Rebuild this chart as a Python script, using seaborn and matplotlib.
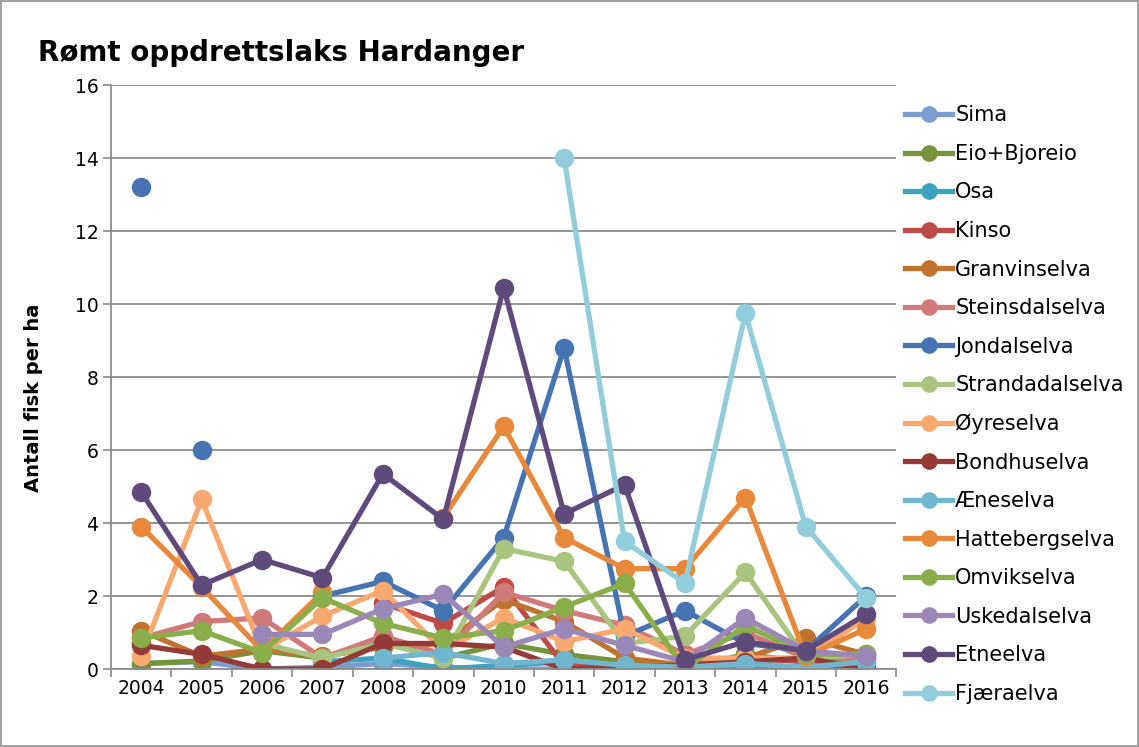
import numpy as np
import pandas as pd
import matplotlib
matplotlib.use("Agg")
import matplotlib.pyplot as plt
from matplotlib.lines import Line2D
import seaborn as sns

years = [2004, 2005, 2006, 2007, 2008, 2009, 2010, 2011, 2012, 2013, 2014, 2015, 2016]
nan = np.nan

series_names = ["Sima", "Eio+Bjoreio", "Osa", "Kinso", "Granvinselva", "Steinsdalselva",
                "Jondalselva", "Strandadalselva", "Øyreselva", "Bondhuselva", "Æneselva",
                "Hattebergselva", "Omvikselva", "Uskedalselva", "Etneelva", "Fjæraelva"]

sima = [0.15, 0.2, 0.0, 0.05, 0.15, 0.05, 0.0, 0.0, 0.05, 0.05, 0.05, 0.05, 0.1]
eio = [0.15, 0.22, 0.5, 0.3, 0.8, 0.3, 0.7, 0.4, 0.2, 0.0, 0.4, 0.2, 0.3]
osa = [nan, nan, nan, 0.2, 0.3, 0.0, 0.1, 0.2, 0.1, 0.0, 0.1, 0.0, 0.2]
kinso = [0.7, nan, nan, nan, 1.8, 1.25, 2.25, 0.1, 0.0, 0.1, 0.3, 0.2, 0.0]
granvin = [1.05, 0.35, 0.55, 0.35, 0.6, 0.7, 1.9, 1.3, 0.3, 0.1, 0.3, 0.85, 0.4]
steinsdal = [0.85, 1.3, 1.4, 0.3, 0.9, 0.4, 2.1, 1.6, 1.2, 0.4, 1.0, 0.3, 0.3]
jondal = [13.2, 6.0, nan, 2.0, 2.4, 1.6, 3.6, 8.8, 0.9, 1.6, 0.7, 0.5, 2.0]
stranda = [nan, nan, 0.7, 0.3, 0.7, 0.3, 3.3, 2.95, 0.7, 0.9, 2.65, 0.3, 0.4]
oyre = [0.35, 4.65, 0.5, 1.45, 2.15, 0.5, 1.4, 0.75, 1.1, 0.3, 0.3, 0.3, 1.4]
bondhus = [0.65, 0.4, 0.0, 0.0, 0.7, 0.7, 0.6, 0.0, 0.05, 0.1, 0.2, 0.3, 0.0]
aene = [nan, nan, nan, nan, 0.3, 0.45, 0.15, 0.25, 0.1, 0.05, 0.15, 0.05, 0.2]
hatteberg = [3.9, 2.25, 0.5, 2.1, nan, 4.15, 6.65, 3.6, 2.75, 2.75, 4.7, 0.35, 1.1]
omvik = [0.85, 1.05, 0.45, 1.95, 1.25, 0.85, 1.05, 1.7, 2.35, 0.0, 1.2, 0.4, 0.4]
uskedal = [nan, nan, 0.95, 0.95, 1.65, 2.05, 0.6, 1.1, 0.65, 0.2, 1.4, 0.5, 0.35]
etne = [4.85, 2.3, 3.0, 2.5, 5.35, 4.1, 10.45, 4.25, 5.05, 0.25, 0.75, 0.5, 1.5]
fjaera = [nan, nan, nan, nan, nan, nan, nan, 14.0, 3.5, 2.35, 9.75, 3.9, 1.95]

values = [sima, eio, osa, kinso, granvin, steinsdal, jondal, stranda, oyre, bondhus,
          aene, hatteberg, omvik, uskedal, etne, fjaera]

# points that are not joined to the previous point
segment_starts = {"Jondalselva": [2005]}

colors = ["#7C9DCF", "#77933C", "#3CA2BE", "#BE4B48", "#C0722F", "#D07A7A",
          "#4674B0", "#A9C47F", "#F9A870", "#953A37", "#6FB6CE", "#E8883A",
          "#8AAE4A", "#9C88B8", "#604A7B", "#92CDDC"]

FAM = ['DejaVu Sans']

fig = plt.figure(figsize=(11.39, 7.47), dpi=100)
fig.patch.set_edgecolor("#A0A0A0")
fig.patch.set_linewidth(1.5)
ax = fig.add_axes([0.0975, 0.1044, 0.6895, 0.7816])

plt.rcParams['font.family'] = FAM

for name, vals, col in zip(series_names, values, colors):
    df = pd.DataFrame({"year": years, "val": vals})
    df["pos"] = np.arange(len(years))
    seg = 0
    segs = []
    prev_nan = True
    for y, v in zip(df["year"], df["val"]):
        if np.isnan(v):
            prev_nan = True
            segs.append(-1)
            continue
        if prev_nan or y in segment_starts.get(name, []):
            seg += 1
        prev_nan = False
        segs.append(seg)
    df["seg"] = segs
    df = df[df["seg"] >= 0]
    sns.lineplot(data=df, x="pos", y="val", units="seg", estimator=None, color=col,
                 marker="o", markersize=14, markeredgewidth=0, linewidth=3.8,
                 ax=ax, legend=False, sort=False)

ax.set_xlim(-0.5, len(years) - 0.5)
ax.set_ylim(0, 16)
ax.set_yticks(np.arange(0, 17, 2))
ax.set_xticks(np.arange(len(years)))
ax.set_xticklabels([str(y) for y in years], fontsize=13.5, family=FAM)
ax.set_xticks(np.arange(len(years) + 1) - 0.5, minor=True)
ax.tick_params(axis="x", which="major", length=0, pad=7)
ax.tick_params(axis="x", which="minor", length=6, color="#888888", width=1.2)
ax.tick_params(axis="y", length=6, color="#888888", width=1.2, labelsize=13.5, pad=3)
for lab in ax.get_yticklabels():
    lab.set_family(FAM)
ax.grid(axis="y", color="#8C8C8C", linewidth=1.3)
ax.set_axisbelow(True)
for s in ["top", "right"]:
    ax.spines[s].set_visible(False)
for s in ["left", "bottom"]:
    ax.spines[s].set_color("#8C8C8C")
    ax.spines[s].set_linewidth(1.3)
ax.set_xlabel("")
ax.set_ylabel("Antall fisk per ha", fontsize=14, fontweight="bold", family=FAM,
              va="center", ha="center")
ax.yaxis.set_label_coords(-0.099, 0.464)
ax.set_facecolor("white")

fig.text(38 / 1139, 1 - 53 / 747, "Rømt oppdrettslaks Hardanger", fontsize=20,
         fontweight="bold", va="center", ha="left", family=FAM)

handles = [Line2D([0], [0], color=c, linewidth=3.8, marker="o", markersize=12,
                  markeredgewidth=0) for c in colors]
fig.legend(handles, series_names, loc="upper left", bbox_to_anchor=(897 / 1139, 1 - 97 / 747),
           frameon=False, handlelength=2.25, handletextpad=0.15,
           labelspacing=0.89, borderaxespad=0, prop={'family': FAM, 'size': 15})

fig.savefig("out.png", dpi=100, facecolor="white", edgecolor=fig.patch.get_edgecolor())
